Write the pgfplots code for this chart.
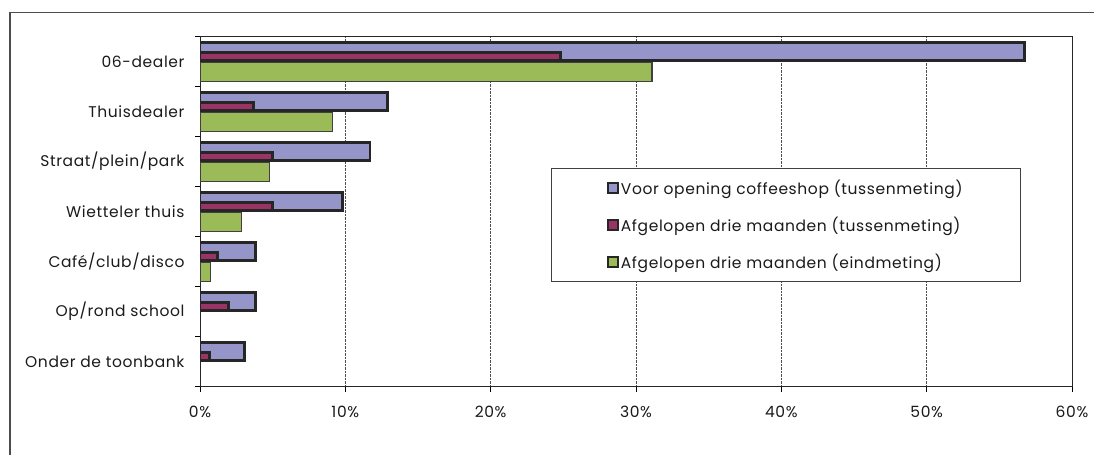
\documentclass[border=0pt]{standalone}
\usepackage{pgfplots}
\pgfplotsset{compat=1.18}
\usepackage{fontspec}
\setmainfont{Poppins}[LetterSpace=4]
\definecolor{cblue}{HTML}{9595C9}
\definecolor{cmaroon}{HTML}{9B3466}
\definecolor{cgreen}{HTML}{9BBB59}
\definecolor{ctext}{HTML}{1A1A1A}
\begin{document}
\begin{tikzpicture}[x=1pt,y=1pt]
\useasboundingbox (0,0) rectangle (1094,455);
\draw[color=black!70, line width=1.2pt] (10,0) -- (10,442.5) -- (1094,442.5);
\begin{axis}[
  at={(200pt,68.5pt)}, anchor=south west, scale only axis,
  width=872pt, height=350pt,
  xmin=0, xmax=60, ymin=-0.5, ymax=6.5,
  axis line style={black!85, line width=1pt},
  xtick={0,10,20,30,40,50,60},
  xticklabels={0\%,10\%,20\%,30\%,40\%,50\%,60\%},
  ytick={-0.5,0.5,1.5,2.5,3.5,4.5,5.5,6.5},
  yticklabels={},
  extra y ticks={0,1,2,3,4,5,6},
  extra y tick labels={Onder de toonbank,Op/rond school,Café/club/disco,Wietteler thuis,Straat/plein/park,Thuisdealer,06-dealer},
  extra y tick style={major tick length=0pt, grid=none},
  tick align=outside, major tick length=5pt,
  tick style={black, line width=0.9pt},
  xtick pos=bottom, ytick pos=left,
  xmajorgrids, grid style={densely dotted, black!70, line width=0.8pt},
  tick label style={font=\fontsize{15.5}{18}\selectfont, text=ctext},
  x tick label style={yshift=-11pt},
  y tick label style={xshift=-12pt},
  legend style={at={(rel axis cs:0.4025,0.6257)}, anchor=north west,
    draw=black!75, line width=0.9pt, fill=white,
    inner xsep=56pt, inner ysep=10pt,
    font=\fontsize{15.5}{18}\selectfont, text=ctext,
    row sep=17pt, cells={anchor=west}},
  legend image code/.code={\draw[#1, line width=1.5pt, draw=black!85] (0pt,-5pt) rectangle (10pt,5pt);},
]
\addplot[xbar, fill=cblue, draw=black!85, line width=2.6pt, bar width=17.5pt, bar shift=10pt]
  coordinates {(56.75,6) (12.9,5) (11.7,4) (9.8,3) (3.8,2) (3.8,1) (3.05,0)};
\addlegendentry{Voor opening coffeeshop (tussenmeting)}
\addplot[xbar, fill=cmaroon, draw=black!85, line width=2.6pt, bar width=7.5pt, bar shift=5pt]
  coordinates {(24.8,6) (3.7,5) (5.0,4) (5.0,3) (1.2,2) (1.95,1) (0.64,0)};
\addlegendentry{Afgelopen drie maanden (tussenmeting)}
\addplot[xbar, fill=cgreen, draw=black!75, line width=1.2pt, bar width=19pt, bar shift=-10.3pt]
  coordinates {(31.1,6) (9.1,5) (4.8,4) (2.85,3) (0.74,2)};
\addlegendentry{Afgelopen drie maanden (eindmeting)}
\end{axis}
\end{tikzpicture}
\end{document}
